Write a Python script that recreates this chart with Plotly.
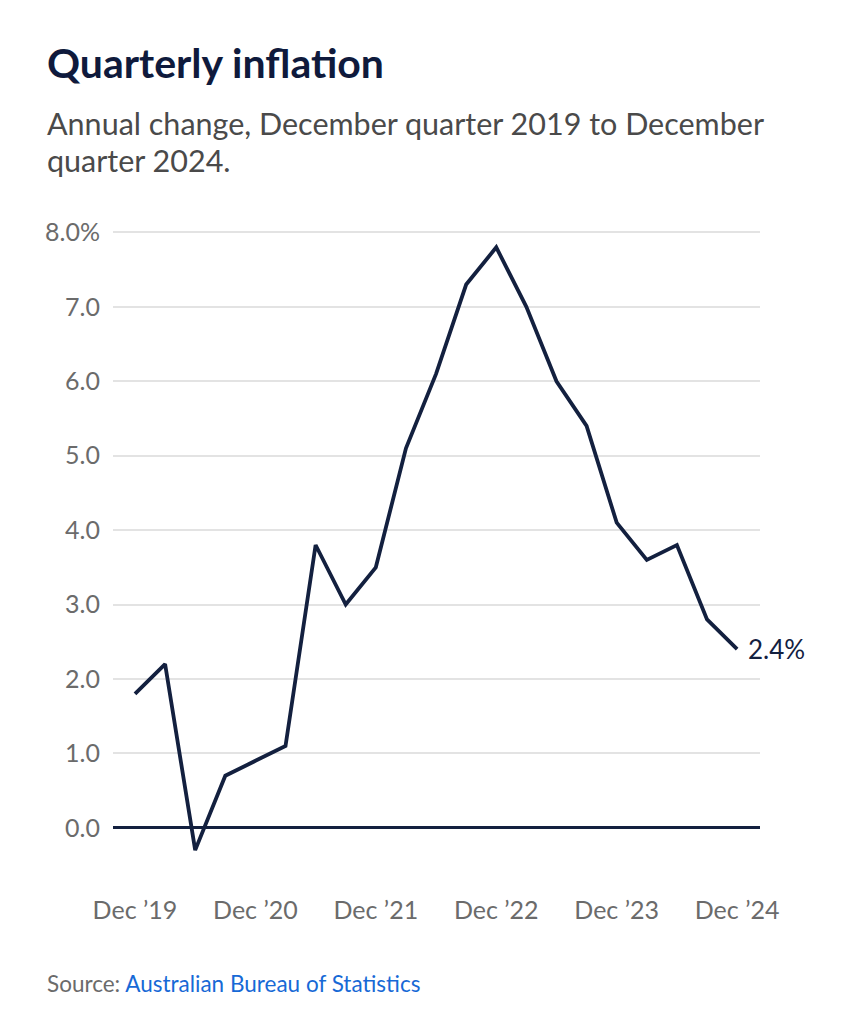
import plotly.graph_objects as go

quarters = ["Dec 2019", "Mar 2020", "Jun 2020", "Sep 2020", "Dec 2020", "Mar 2021", "Jun 2021",
            "Sep 2021", "Dec 2021", "Mar 2022", "Jun 2022", "Sep 2022", "Dec 2022", "Mar 2023",
            "Jun 2023", "Sep 2023", "Dec 2023", "Mar 2024", "Jun 2024", "Sep 2024", "Dec 2024"]
inflation = [1.8, 2.2, -0.3, 0.7, 0.9, 1.1, 3.8, 3.0, 3.5, 5.1, 6.1, 7.3, 7.8, 7.0,
             6.0, 5.4, 4.1, 3.6, 3.8, 2.8, 2.4]
x_tick_index = [0, 4, 8, 12, 16, 20]
x_tick_labels = ["Dec \u201919", "Dec \u201920", "Dec \u201921", "Dec \u201922", "Dec \u201923", "Dec \u201924"]
y_tick_vals = [0, 1, 2, 3, 4, 5, 6, 7, 8]
y_tick_labels = ["0.0", "1.0", "2.0", "3.0", "4.0", "5.0", "6.0", "7.0", "8.0%"]

NAVY = "#13203f"
GRAY = "#6b6b6b"
FONT = "Lato"

W, H = 843, 1003
ML, MR, MT, MB = 105, 91, 217, 146

xs = list(range(len(quarters)))

fig = go.Figure()
fig.add_trace(go.Scatter(
    x=xs, y=inflation, mode="lines",
    line=dict(color=NAVY, width=3.8),
    hoverinfo="skip", showlegend=False,
))

fig.add_annotation(
    x=xs[-1], y=inflation[-1], xref="x", yref="y",
    text=f"{inflation[-1]:.1f}%", showarrow=False,
    xanchor="left", yanchor="middle", xshift=9,
    font=dict(family=FONT, size=26, color=NAVY),
)

fig.update_layout(
    width=W, height=H,
    paper_bgcolor="white", plot_bgcolor="white",
    margin=dict(l=ML, r=MR, t=MT, b=MB),
    font=dict(family=FONT),
    xaxis=dict(
        range=[-0.73, 20.76],
        tickmode="array", tickvals=x_tick_index, ticktext=x_tick_labels,
        showgrid=False, zeroline=False, showline=False, ticks="",
        tickfont=dict(family=FONT, size=25, color=GRAY),
        ticklabelstandoff=28,
    ),
    yaxis=dict(
        range=[-0.5, 8.1],
        tickmode="array", tickvals=y_tick_vals, ticktext=y_tick_labels,
        showgrid=True, gridcolor="#e3e3e3", gridwidth=1.5,
        zeroline=True, zerolinecolor=NAVY, zerolinewidth=3.2,
        showline=False, ticks="",
        tickfont=dict(family=FONT, size=25, color=GRAY),
        ticklabelstandoff=12,
    ),
)

fig.add_annotation(
    x=37, y=55, xref="paper", yref="paper", text="<b>Quarterly inflation</b>",
    showarrow=False, xanchor="left", yanchor="middle",
    font=dict(family=FONT, size=41, color="#0f1a3c"),
)
subtitle_lines = ["Annual change, December quarter 2019 to December", "quarter 2024."]
for line_text, ypix in zip(subtitle_lines, [114.5, 151.5]):
    fig.add_annotation(
        x=37, y=ypix, xref="paper", yref="paper",
        text=line_text,
        showarrow=False, xanchor="left", yanchor="middle", align="left",
        font=dict(family=FONT, size=30.5, color="#4a4a4a"),
    )
fig.add_annotation(
    x=37, y=975, xref="paper", yref="paper",
    text="Source: <span style='color:#1769d6'>Australian Bureau of Statistics</span>",
    showarrow=False, xanchor="left", yanchor="middle",
    font=dict(family=FONT, size=22.5, color="#6b6b6b"),
)

# convert pixel positions to paper coords for the text annotations
plot_w = W - ML - MR
plot_h = H - MT - MB
for ann in fig.layout.annotations:
    if ann.xref == "paper":
        ann.x = (ann.x - ML) / plot_w
        ann.y = 1 - (ann.y - MT) / plot_h

fig.write_html("out.html")
